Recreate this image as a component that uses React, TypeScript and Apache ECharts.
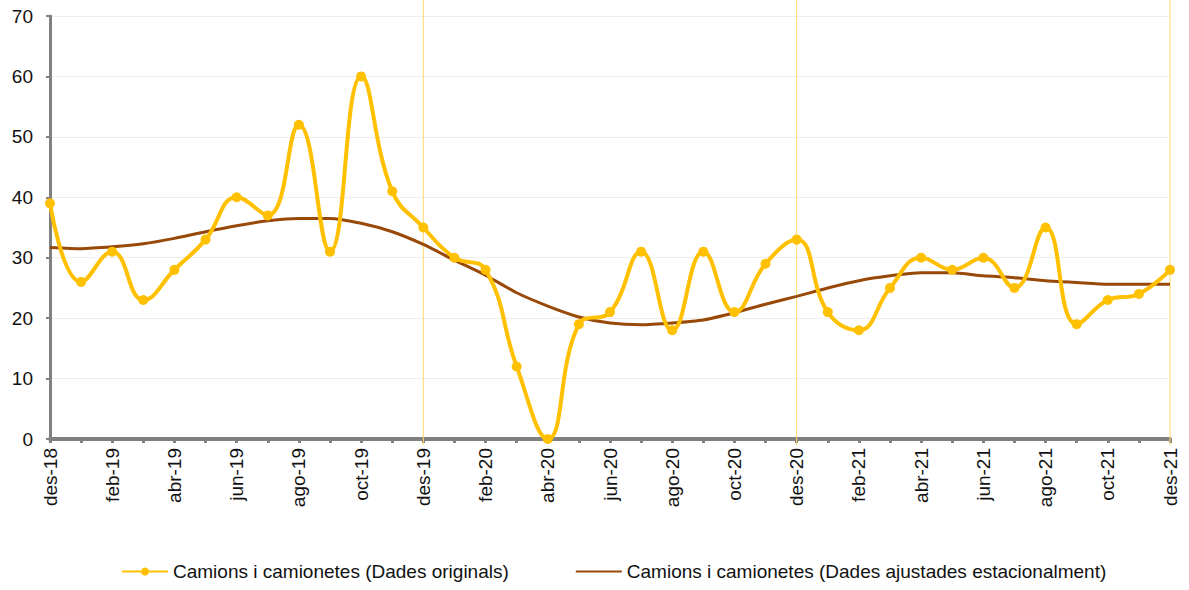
import React, { useEffect, useRef } from "react";
import * as echarts from "echarts";

const months = [
  "des-18", "gen-19", "feb-19", "mar-19", "abr-19", "mai-19", "jun-19", "jul-19", "ago-19", "set-19", "oct-19", "nov-19",
  "des-19", "gen-20", "feb-20", "mar-20", "abr-20", "mai-20", "jun-20", "jul-20", "ago-20", "set-20", "oct-20", "nov-20",
  "des-20", "gen-21", "feb-21", "mar-21", "abr-21", "mai-21", "jun-21", "jul-21", "ago-21", "set-21", "oct-21", "nov-21",
  "des-21",
];

const originals = [
  39, 26, 31, 23, 28, 33, 40, 37, 52, 31, 60, 41,
  35, 30, 28, 12, 0, 19, 21, 31, 18, 31, 21, 29,
  33, 21, 18, 25, 30, 28, 30, 25, 35, 19, 23, 24,
  28,
];

const adjusted = [
  31.7, 31.5, 31.8, 32.3, 33.2, 34.3, 35.3, 36.1, 36.5, 36.5, 35.7, 34.3,
  32.2, 29.6, 27.1, 24.2, 22.0, 20.2, 19.2, 18.9, 19.2, 19.7, 20.9, 22.3,
  23.6, 25.0, 26.2, 27.0, 27.5, 27.5, 27.0, 26.7, 26.2, 25.9, 25.6, 25.6,
  25.6,
];

const yearMarks = ["des-19", "des-20", "des-21"];

const nameOrig = "Camions i camionetes (Dades originals)";
const nameAdj = "Camions i camionetes (Dades ajustades estacionalment)";

export default function App() {
  const ref = useRef<HTMLDivElement>(null);
  useEffect(() => {
    if (!ref.current) return;
    const chart = echarts.init(ref.current, null, { renderer: "svg" });
    const font = "'Liberation Sans', Arial, sans-serif";
    chart.setOption({
      animation: false,
      textStyle: { fontFamily: font },
      grid: { left: 50, right: 19, top: 16, bottom: 151, containLabel: false },
      legend: {
        data: [
          { name: nameOrig },
          { name: nameAdj, itemStyle: { opacity: 0 } },
        ],
        bottom: 4,
        left: 116,
        itemWidth: 46,
        itemHeight: 10,
        itemGap: 66,
        textStyle: { fontFamily: font, fontSize: 19, color: "#111" },
      },
      xAxis: {
        type: "category",
        data: months,
        boundaryGap: false,
        axisLine: { lineStyle: { color: "#808080", width: 4 } },
        axisTick: { show: true, interval: 0, length: 4, lineStyle: { color: "#808080", width: 3 } },
        axisLabel: {
          interval: 1,
          rotate: 90,
          margin: 9,
          fontSize: 19,
          color: "#111",
          fontFamily: font,
        },
        splitLine: { show: false },
      },
      yAxis: {
        type: "value",
        min: 0,
        max: 70,
        interval: 10,
        axisLine: { show: true, lineStyle: { color: "#808080", width: 3 } },
        axisTick: { show: true, length: 4, lineStyle: { color: "#808080", width: 2 } },
        axisLabel: { fontSize: 19, color: "#111", margin: 17, fontFamily: font },
        splitLine: { lineStyle: { color: "#EEEEEE", width: 1 } },
      },
      series: [
        {
          type: "custom",
          name: "marks",
          silent: true,
          clip: false,
          z: 1,
          data: yearMarks.map((m) => [m, 70]),
          renderItem: (params: any, api: any) => {
            const top = api.coord([api.value(0), api.value(1)]);
            const bottom = api.coord([api.value(0), 0]);
            return {
              type: "line",
              shape: { x1: top[0], y1: top[1] - 16, x2: top[0], y2: bottom[1] + 6 },
              style: { stroke: "#FFD966", lineWidth: 1 },
            };
          },
        },
        {
          type: "line",
          name: nameAdj,
          data: adjusted,
          smooth: 0.2,
          symbol: "none",
          z: 3,
          lineStyle: { color: "#984807", width: 3 },
          itemStyle: { color: "#984807" },
        },
        {
          type: "line",
          name: nameOrig,
          data: originals,
          smooth: 0.45,
          symbol: "circle",
          symbolSize: 10,
          z: 4,
          lineStyle: { color: "#FFC000", width: 4 },
          itemStyle: { color: "#FFC000" },
        },
      ],
    });
    return () => chart.dispose();
  }, []);
  return (
    <div
      ref={ref}
      style={{ position: "absolute", left: 0, top: 0, width: 1189, height: 590, background: "#fff" }}
    />
  );
}
